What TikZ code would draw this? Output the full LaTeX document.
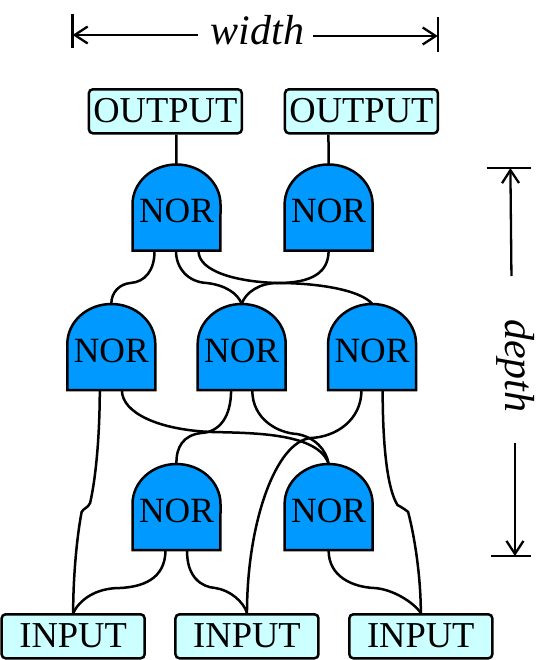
\documentclass[tikz,border=0pt]{standalone}
\usepackage{fontspec}
\setmainfont{Liberation Serif}
\usetikzlibrary{arrows.meta}
\definecolor{gateblue}{HTML}{0099FF}
\definecolor{boxcyan}{HTML}{CCFFFF}
\tikzset{
  wire/.style={line width=2.5pt},
  iobox/.style={draw=black,line width=2.5pt,fill=boxcyan,rounded corners=4pt,inner sep=0pt,
    minimum height=44pt,text height=23pt,text depth=0pt,font=\fontsize{36.5}{36.5}\selectfont},
  outbox/.style={iobox,minimum width=153pt},
  inbox/.style={iobox,minimum width=143pt},
  gatetext/.style={inner sep=0pt,minimum width=88pt,minimum height=86pt,text height=30pt,text depth=0pt,
    font=\fontsize{35.5}{35.5}\selectfont},
  gateshape/.style={draw=black,line width=2.5pt,fill=gateblue,line join=miter},
  measure/.style={line width=2.3pt},
  measuretip/.style={measure,-{Straight Barb[length=13pt,width=17pt,line width=2.3pt]}},
  dimtext/.style={inner sep=0pt,font=\fontsize{42}{42}\selectfont\itshape}
}
\newcommand{\norgate}[3]{%
  \path[gateshape] (#2-41.5,#3+86) -- (#2-41.5,#3+40)
    arc[start angle=180,end angle=0,x radius=44pt,y radius=40pt]
    -- (#2+41.5,#3+86) -- cycle;
  \node[gatetext] (#1) at (#2,#3+43) {NOR};
}
\begin{document}
\begin{tikzpicture}[x=1.06pt,y=-1pt]
\useasboundingbox (0,0) rectangle (522.64,660);
% boxes
\node[outbox] (o1) at (156,111.3) {OUTPUT};
\node[outbox] (o2) at (341,111.3) {OUTPUT};
\node[inbox] (i1) at (69,636.3) {INPUT};
\node[inbox] (i2) at (233,636.3) {INPUT};
\node[inbox] (i3) at (397,636.3) {INPUT};
% gates
\norgate{g1}{166.5}{164.5}
\norgate{g2}{310}{164.5}
\norgate{a}{105}{304}
\norgate{b}{228}{304}
\norgate{c}{351}{304}
\norgate{d}{166.5}{464}
\norgate{e}{310}{464}
% output wires
\draw[wire] ([xshift=11pt]o1.south) -- (g1.north);
\draw[wire] ([xshift=-33pt]o2.south) -- (g2.north);
% first layer wires
\draw[wire] ([xshift=-22pt]g1.south) .. controls (146,270) and (137,282) .. (123,283)
  .. controls (113,284) and (105,292) .. (a.north);
\draw[wire] ([xshift=-0.5pt]g1.south) .. controls (166,268) and (177,282) .. (195,283)
  .. controls (212,285) and (224,293) .. (b.north);
\draw[wire] ([xshift=22pt]g1.south) .. controls (187,272) and (225,282) .. (262,283)
  .. controls (300,283) and (340,290) .. (c.north);
\draw[wire] (g2.south) .. controls (310,272) and (295,283) .. (262,283)
  .. controls (245,283) and (232,292) .. (b.north);
% second layer wires
\draw[wire] ([xshift=-11.5pt]a.south) .. controls (94,440) and (90,480) .. (85,503)
  .. controls (83,508) and (79,508) .. (77,512)
  .. controls (72,540) and (69,580) .. (i1.north);
\draw[wire] ([xshift=10.6pt]a.south) .. controls (115,413) and (150,430) .. (200,432)
  .. controls (240,433) and (300,433) .. (e.north);
\draw[wire] ([xshift=-10.6pt]b.south) .. controls (218,417) and (207,432) .. (190,433)
  .. controls (173,435) and (166,447) .. (d.north);
\draw[wire] ([xshift=10.6pt]b.south) .. controls (238,420) and (263,433) .. (280,434)
  .. controls (297,437) and (308,450) .. (e.north);
\draw[wire] ([xshift=-10.6pt]c.south) .. controls (341,420) and (317,437) .. (293,438)
  .. controls (260,442) and (233,523) .. (i2.north);
\draw[wire] ([xshift=10.6pt]c.south) .. controls (361,450) and (366,490) .. (375,505)
  .. controls (380,508) and (383,510) .. (385,512)
  .. controls (392,540) and (397,580) .. (i3.north);
% third layer wires
\draw[wire] ([xshift=-11pt]d.south) .. controls (156,580) and (133,587) .. (113,588)
  .. controls (90,588) and (75,600) .. (i1.north);
\draw[wire] ([xshift=10.6pt]d.south) .. controls (176,577) and (190,587) .. (203,588)
  .. controls (217,590) and (230,602) .. (i2.north);
\draw[wire] (e.south) .. controls (310,577) and (333,587) .. (353,588)
  .. controls (370,589) and (390,602) .. (i3.north);
% width dimension
\node[dimtext,anchor=base] (wd) at (243,45) {width};
\coordinate (wl) at (68.5,35);
\coordinate (wr) at (413,36);
\coordinate (wlt) at (68.5,14);
\coordinate (wlb) at (68.5,48);
\coordinate (wrt) at (413,17);
\coordinate (wrb) at (413,52);
\draw[measure] (wlt) -- (wlb);
\draw[measure] (wrt) -- (wrb);
\draw[measuretip] ([xshift=-13pt]wd.west |- wl) -- (wl);
\draw[measuretip] ([xshift=9pt]wd.east |- wr) -- (wr);
% depth dimension
\node[dimtext,anchor=base,rotate=-90] (dp) at (477,366) {depth};
\coordinate (dt) at (481.5,168);
\coordinate (db) at (485.8,556);
\coordinate (dtl) at (459,168);
\coordinate (dtr) at (501,168);
\coordinate (dbl) at (463,556);
\coordinate (dbr) at (501,556);
\draw[measure] (dtl) -- (dtr);
\draw[measure] (dbl) -- (dbr);
\draw[measuretip] (482.5,276) -- (dt);
\draw[measuretip] (db |- 0,443) -- (db);
\end{tikzpicture}
\end{document}
